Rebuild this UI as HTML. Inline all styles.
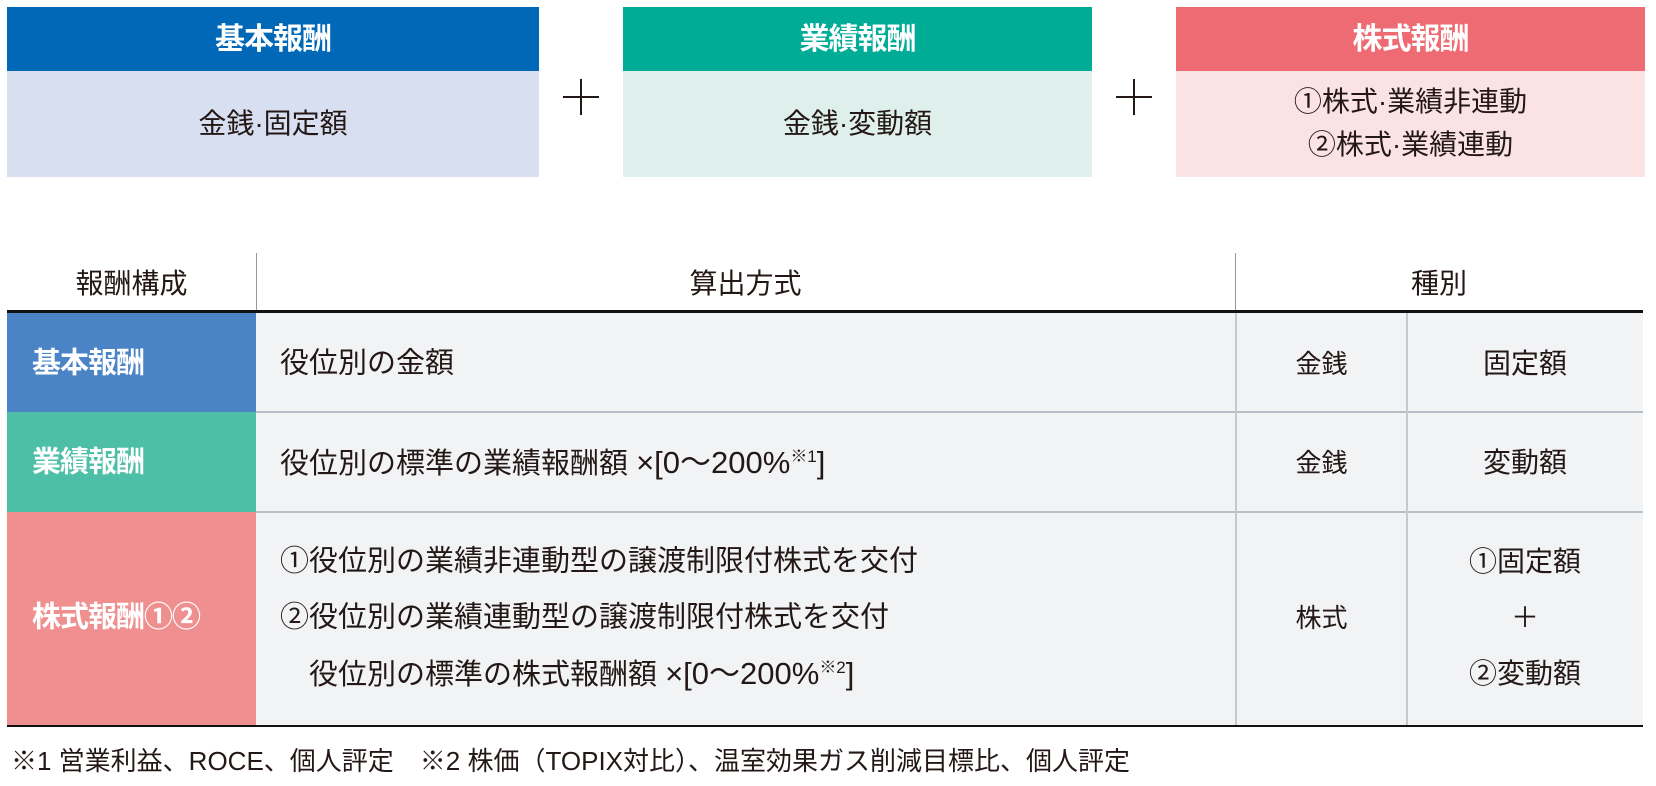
<!DOCTYPE html>
<html><head><meta charset="utf-8"><style>
*{margin:0;padding:0;box-sizing:border-box}
body{width:1656px;height:786px;background:#fff;position:relative;overflow:hidden;font-family:"Liberation Sans","Noto Sans CJK JP",sans-serif;color:#231815}
.a{position:absolute}
.t{position:absolute;white-space:nowrap;transform:translateY(-50%);line-height:1}
.c{text-align:center}
.hd{color:#fff;font-size:30px;font-weight:bold;letter-spacing:-1px}
.bd{font-size:28px}
.tb{font-size:28px}
.rw{font-size:29px}
.lt{font-size:31px}
sup{font-size:17px;vertical-align:11px}
</style></head><body>
<div class="a" style="left:7px;top:7px;width:532px;height:64px;background:#0068b7"></div>
<div class="a" style="left:7px;top:71px;width:532px;height:106px;background:#d8dff0"></div>
<div class="t c hd" style="left:7px;width:532px;top:40px">基本報酬</div>
<div class="t c bd" style="left:7px;width:532px;top:124px">金銭·固定額</div>

<div class="a" style="left:623px;top:7px;width:469px;height:64px;background:#00ac96"></div>
<div class="a" style="left:623px;top:71px;width:469px;height:106px;background:#dff0ec"></div>
<div class="t c hd" style="left:623px;width:469px;top:40px">業績報酬</div>
<div class="t c bd" style="left:623px;width:469px;top:124px">金銭·変動額</div>

<div class="a" style="left:1176px;top:7px;width:469px;height:64px;background:#ee6b73"></div>
<div class="a" style="left:1176px;top:71px;width:469px;height:106px;background:#fbe3e4"></div>
<div class="t c hd" style="left:1176px;width:469px;top:40px">株式報酬</div>
<div class="t c bd" style="left:1176px;width:469px;top:102px">①株式·業績非連動</div>
<div class="t c bd" style="left:1176px;width:469px;top:145px">②株式·業績連動</div>

<div class="a" style="left:563px;top:96px;width:36px;height:2px;background:#231815"></div>
<div class="a" style="left:580px;top:79px;width:2px;height:36px;background:#231815"></div>
<div class="a" style="left:1116px;top:96px;width:36px;height:2px;background:#231815"></div>
<div class="a" style="left:1133px;top:79px;width:2px;height:36px;background:#231815"></div>

<div class="a" style="left:256px;top:253px;width:1px;height:59px;background:#999"></div>
<div class="a" style="left:1235px;top:253px;width:1px;height:59px;background:#999"></div>
<div class="t c tb" style="left:7px;width:249px;top:284px">報酬構成</div>
<div class="t c tb" style="left:256px;width:979px;top:284px">算出方式</div>
<div class="t c tb" style="left:1235px;width:408px;top:284px">種別</div>

<div class="a" style="left:256px;top:312px;width:1387px;height:414px;background:#f2f3f5"></div>
<div class="a" style="left:7px;top:312px;width:249px;height:100px;background:#4a84c6"></div>
<div class="a" style="left:7px;top:412px;width:249px;height:100px;background:#4dbfa6"></div>
<div class="a" style="left:7px;top:512px;width:249px;height:214px;background:#f08f8f"></div>
<div class="a" style="left:256px;top:411px;width:1387px;height:2px;background:#b8bec5"></div>
<div class="a" style="left:256px;top:511px;width:1387px;height:2px;background:#b8bec5"></div>
<div class="a" style="left:1235px;top:312px;width:2px;height:414px;background:#c4c9ce"></div>
<div class="a" style="left:1406px;top:312px;width:2px;height:414px;background:#c4c9ce"></div>
<div class="a" style="left:7px;top:310px;width:1636px;height:3px;background:#111"></div>
<div class="a" style="left:7px;top:725px;width:1636px;height:2px;background:#111"></div>

<div class="t" style="left:32px;top:364px;color:#fff;font-weight:bold;font-size:29px;letter-spacing:-1px">基本報酬</div>
<div class="t" style="left:32px;top:463px;color:#fff;font-weight:bold;font-size:29px;letter-spacing:-1px">業績報酬</div>
<div class="t" style="left:32px;top:618px;color:#fff;font-weight:bold;font-size:29px;letter-spacing:-1px">株式報酬①②</div>

<div class="t rw" style="left:280px;top:364px">役位別の金額</div>
<div class="t rw" style="left:280px;top:463px">役位別の標準の業績報酬額 <span class="lt">×[0～200%</span><sup>※1</sup><span class="lt">]</span></div>
<div class="t rw" style="left:280px;top:562px">①役位別の業績非連動型の譲渡制限付株式を交付</div>
<div class="t rw" style="left:280px;top:618px">②役位別の業績連動型の譲渡制限付株式を交付</div>
<div class="t rw" style="left:309px;top:674px">役位別の標準の株式報酬額 <span class="lt">×[0～200%</span><sup>※2</sup><span class="lt">]</span></div>

<div class="t c" style="left:1236px;width:171px;top:364px;font-size:26px">金銭</div>
<div class="t c" style="left:1236px;width:171px;top:463px;font-size:26px">金銭</div>
<div class="t c" style="left:1236px;width:171px;top:618px;font-size:26px">株式</div>
<div class="t c tb" style="left:1407px;width:236px;top:364px">固定額</div>
<div class="t c tb" style="left:1407px;width:236px;top:463px">変動額</div>
<div class="t c tb" style="left:1407px;width:236px;top:562px">①固定額</div>
<div class="t c tb" style="left:1407px;width:236px;top:618px">＋</div>
<div class="t c tb" style="left:1407px;width:236px;top:674px">②変動額</div>

<div class="t" style="left:11px;top:761px;font-size:26px">※1 営業利益、ROCE、個人評定　※2 株価（TOPIX対比）、温室効果ガス削減目標比、個人評定</div>
</body></html>
